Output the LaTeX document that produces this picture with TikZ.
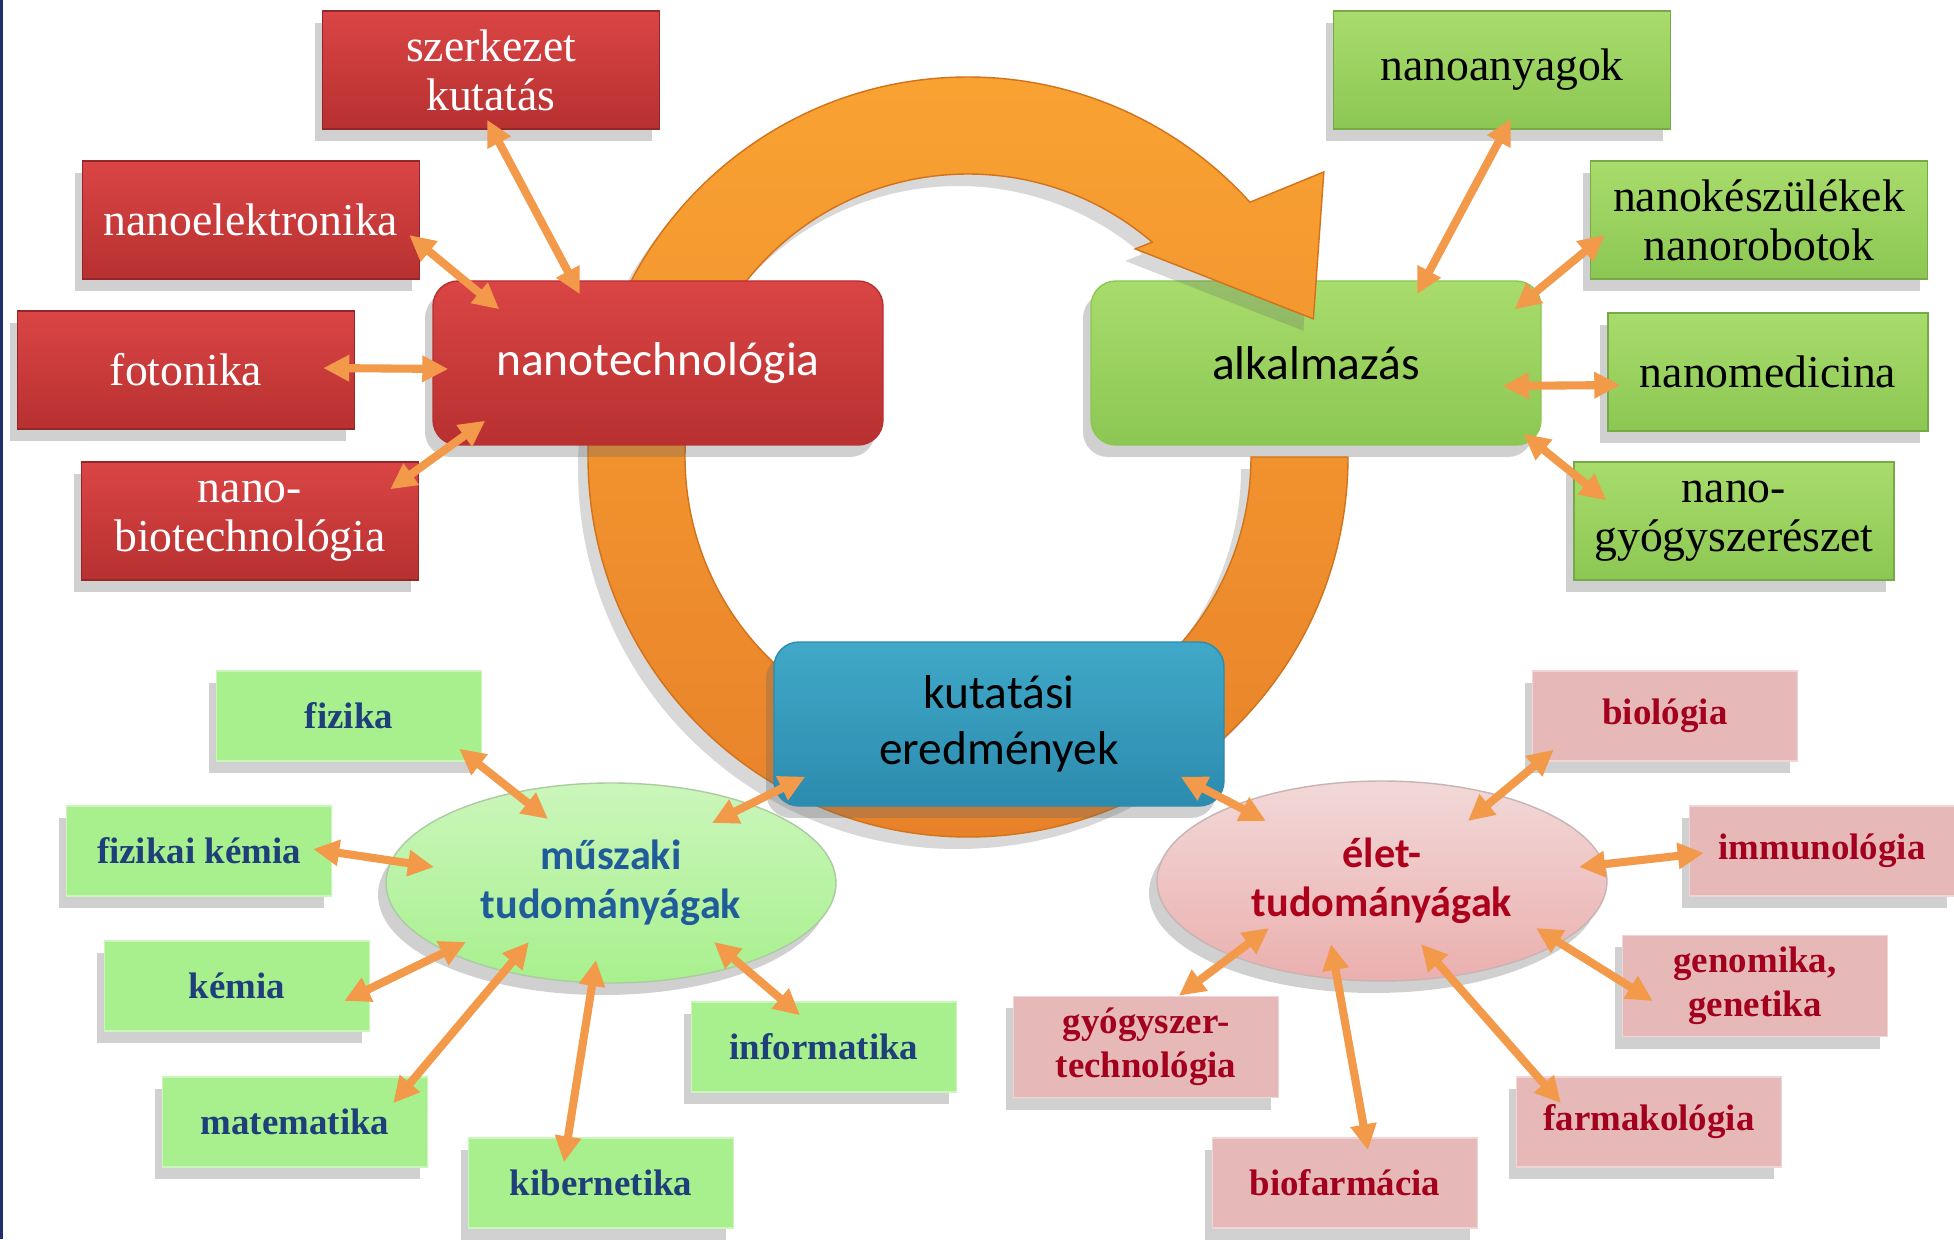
\documentclass[tikz,border=0pt]{standalone}
\usepackage{fontspec}
\setmainfont{Liberation Serif}
\newfontfamily\calibri{Carlito}
\usepackage{tikz}
\usetikzlibrary{calc,arrows.meta,shadows,shapes.geometric}
\definecolor{framenavy}{HTML}{1F2F6B}
\definecolor{ringtop}{HTML}{F9A232}
\definecolor{ringbot}{HTML}{E8822A}
\definecolor{ringedge}{HTML}{D2721A}
\definecolor{redtop}{HTML}{DA4545}
\definecolor{redbot}{HTML}{B83030}
\definecolor{greentop}{HTML}{A8DC6C}
\definecolor{greenbot}{HTML}{8CC753}
\definecolor{tealtop}{HTML}{40A8C8}
\definecolor{tealbot}{HTML}{2C8BAE}
\definecolor{lightgreen}{HTML}{A8F08E}
\definecolor{lightpink}{HTML}{E6B9B8}
\definecolor{linkorange}{HTML}{F2994A}
\definecolor{navytext}{HTML}{1F3F7A}
\definecolor{bluetext}{HTML}{1F5C99}
\definecolor{darkred}{HTML}{A3001E}
\tikzset{boxshadow/.style={drop shadow={shadow xshift=-.8mm,shadow yshift=-1.2mm,opacity=.3,fill=black!60}}}

\begin{document}
\begin{tikzpicture}[x=0.1mm,y=0.1mm]

\tikzset{redbox/.style={boxshadow,top color=redtop,bottom color=redbot,draw=redbot!80!black,text=white,minimum width=3.37cm,minimum height=1.18cm,align=center,font=\fontsize{13}{14}\selectfont},
greenbox/.style={boxshadow,top color=greentop,bottom color=greenbot,draw=greenbot!85!black,text=black,minimum width=3.37cm,minimum height=1.18cm,align=center,font=\fontsize{13}{14}\selectfont},
limebox/.style={boxshadow,fill=lightgreen,draw=lightgreen!60!white,text=navytext,minimum width=2.65cm,minimum height=.9cm,align=center,font=\bfseries\fontsize{10.5}{12.5}\selectfont},
pinkbox/.style={boxshadow,fill=lightpink,draw=lightpink!60!white,text=darkred,minimum width=2.65cm,minimum height=.9cm,align=center,font=\bfseries\fontsize{10.5}{12.5}\selectfont},
bigbox/.style={boxshadow,rounded corners=2.5mm,minimum width=4.5cm,minimum height=1.64cm,align=center,font=\calibri\fontsize{13.5}{16}\selectfont},
ellnode/.style={boxshadow,shape=ellipse,minimum width=4.5cm,minimum height=2cm,inner sep=0pt,align=center,font=\calibri\bfseries\fontsize{12}{14}\selectfont},
ring/.style={top color=ringtop,bottom color=ringbot,draw=ringedge,thin},
link/.style={draw=linkorange,line width=2.3pt,>={Triangle[length=2.6mm,width=2.5mm]},<->}}

% Frame
\useasboundingbox (0,0) rectangle (1954,1239);
\fill[white] (0,0) rectangle (1954,1239);
\fill[framenavy] (0,0) rectangle (3,1239);

% Application box under the arrow head
\node (alk) [bigbox,top color=greentop,bottom color=greenbot,draw=greenbot] at (1316,876) {alkalmazás};

% Cycle arrow
\begin{scope}[shift={(968,782)}]
\path[ring,drop shadow={shadow xshift=-1mm,shadow yshift=-1.2mm,opacity=.25,fill=black!60}] (0:380) arc[start angle=0,end angle=-317.9,radius=380] -- (38.7:456) -- (21.8:372) -- (51.2:267) -- (-310.6:283) arc[start angle=-310.6,end angle=0,radius=283] -- cycle;
\end{scope}

% Main nodes
\node (ntech) [bigbox,top color=redtop,bottom color=redbot,draw=redbot,text=white] at (658,876) {nanotechnológia};
\node (kut) [bigbox,top color=tealtop,bottom color=tealbot,draw=tealbot] at (999,515) {kutatási\\eredmények};
\node (msz) [ellnode,top color=lightgreen!60!white,bottom color=lightgreen,draw=lightgreen!70!black!60,text=bluetext] at (611,356) {műszaki\\tudományágak};
\node (elt) [ellnode,top color=lightpink!55!white,bottom color=lightpink!90!red!90,draw=lightpink!70!black!60,text=darkred!90!red] at (1382,358) {élet-\\tudományágak};

% Nanotechnology fields
\node (szk) [redbox] at (491,1169) {szerkezet\\kutatás};
\node (nel) [redbox] at (251,1019) {nanoelektronika};
\node (fot) [redbox] at (186,869) {fotonika};
\node (nbt) [redbox] at (250,718) {nano-\\biotechnológia};

% Applications
\node (nag) [greenbox] at (1502,1169) {nanoanyagok};
\node (nks) [greenbox] at (1759,1019) {nanokészülékek\\nanorobotok};
\node (nmd) [greenbox,minimum width=3.2cm] at (1768,867) {nanomedicina};
\node (ngy) [greenbox,minimum width=3.2cm] at (1734,718) {nano-\\gyógyszerészet};

% Engineering sciences
\node (fiz) [limebox] at (349,523) {fizika};
\node (fkm) [limebox] at (199,388) {fizikai kémia};
\node (kem) [limebox] at (237,253) {kémia};
\node (mat) [limebox] at (295,117) {matematika};
\node (kib) [limebox] at (601,56) {kibernetika};
\node (inf) [limebox] at (824,192) {informatika};

% Life sciences
\node (bio) [pinkbox] at (1665,523) {biológia};
\node (imm) [pinkbox] at (1822,388) {immunológia};
\node (gen) [pinkbox] at (1755,253) {genomika,\\genetika};
\node (frm) [pinkbox] at (1649,117) {farmakológia};
\node (bfm) [pinkbox] at (1345,56) {biofarmácia};
\node (gyt) [pinkbox] at (1146,192) {gyógyszer-\\technológia};

% Links
\draw[link] ($(szk.south)+(-4,10)$) -- ($(ntech.north)+(-78,-14)$);
\draw[link] ($(nel.east)+(-11,-15)$) -- ($(ntech.north west)+(67,-29)$);
\draw[link] ($(fot.east)+(-32,2)$) -- ($(ntech.west)+(16,-6)$);
\draw[link] ($(nbt.north east)+(-29,-28)$) -- ($(ntech.south west)+(53,25)$);
\draw[link] ($(nag.south)+(9,11)$) -- ($(alk.north)+(101,-14)$);
\draw[link] ($(nks.west)+(15,-15)$) -- ($(alk.north east)+(-27,-29)$);
\draw[link] ($(nmd.west)+(13,-13)$) -- ($(alk.east)+(-39,-23)$);
\draw[link] ($(ngy.north west)+(33,-39)$) -- ($(alk.south east)+(-18,12)$);
\draw[link] ($(kut.south west)+(32,30)$) -- ($(msz)+(101,60)$);
\draw[link] ($(kut.south east)+(-44,30)$) -- ($(elt)+(-116,60)$);
\draw[link] ($(fiz.south east)+(-23,13)$) -- ($(msz)+(-63,64)$);
\draw[link] ($(fkm.east)+(-19,2)$) -- ($(msz)+(-177,16)$);
\draw[link] ($(kem.east)+(-26,-15)$) -- ($(msz)+(-145,-59)$);
\draw[link] ($(mat.north east)+(-35,-27)$) -- ($(msz)+(-82,-59)$);
\draw[link] ($(kib.north)+(-37,-25)$) -- ($(msz)+(-15,-77)$);
\draw[link] ($(inf.north)+(-24,-14)$) -- ($(msz)+(103,-59)$);
\draw[link] ($(bio.south west)+(22,12)$) -- ($(elt)+(86,60)$);
\draw[link] ($(imm.west)+(15,-2)$) -- ($(elt)+(197,14)$);
\draw[link] ($(gen.west)+(31,-15)$) -- ($(elt)+(154,-47)$);
\draw[link] ($(frm.north)+(-88,-27)$) -- ($(elt)+(39,-63)$);
\draw[link] ($(bfm.north)+(23,-13)$) -- ($(elt)+(-51,-63)$);
\draw[link] ($(gyt.north)+(33,0)$) -- ($(elt)+(-113,-47)$);

\end{tikzpicture}
\end{document}
